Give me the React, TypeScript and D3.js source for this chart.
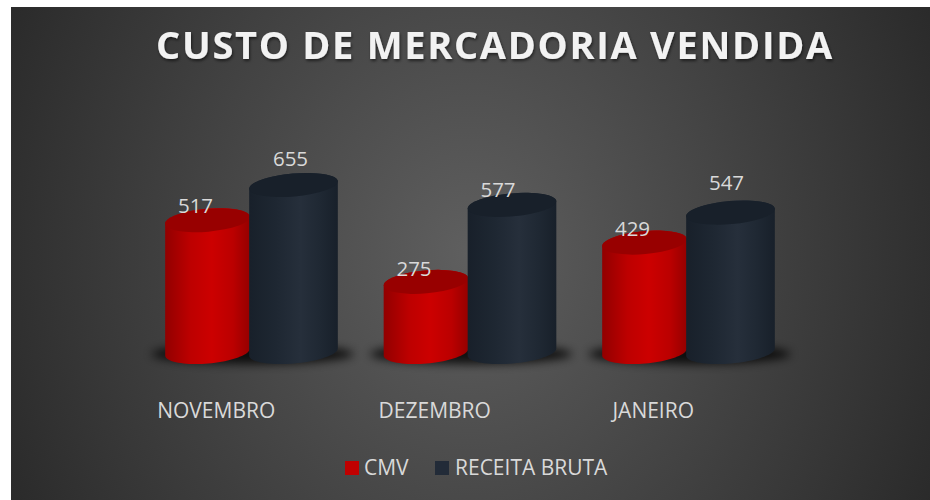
import React, { useEffect, useRef } from 'react';
import * as d3 from 'd3';

const categories = ['NOVEMBRO', 'DEZEMBRO', 'JANEIRO'];
const seriesNames = ['CMV', 'RECEITA BRUTA'];
const cmvValues = [517, 275, 429];
const receitaValues = [655, 577, 547];
const titleText = 'CUSTO DE MERCADORIA VENDIDA';

const FONT = '"Open Sans", "Noto Sans", sans-serif';
const width = 930;
const height = 500;
const tilt = (-5 * Math.PI) / 180; // the cylinders lean a little, as in the 3D view
const ry = 11.5;

// label nudges per series and category, the source places them by hand
const labelDx = [[-12, -12, -12], [-3, -14, -4]];
const labelDy = [[-7, -6, -7], [-19, -8, -23]];

export default function App() {
  const ref = useRef<SVGSVGElement | null>(null);

  useEffect(() => {
    const svg = d3.select(ref.current);
    svg.selectAll('*').remove();

    const defs = svg.append('defs');

    const bg = defs.append('radialGradient').attr('id', 'bg')
      .attr('gradientUnits', 'userSpaceOnUse')
      .attr('cx', 470).attr('cy', 253).attr('r', 550)
      .attr('gradientTransform', 'translate(470 253) scale(1 1.15) translate(-470 -253)');
    bg.append('stop').attr('offset', '0%').attr('stop-color', '#5f5f5f');
    bg.append('stop').attr('offset', '100%').attr('stop-color', '#262626');

    const sideStops: Record<string, [number, string][]> = {
      side0: [[0, '#920000'], [0.3, '#bd0000'], [0.55, '#cc0000'], [0.8, '#bb0000'], [1, '#950000']],
      side1: [[0, '#18202a'], [0.3, '#1e2732'], [0.58, '#262f3b'], [0.8, '#1f2833'], [1, '#18202a']],
    };
    Object.keys(sideStops).forEach((id) => {
      const g = defs.append('linearGradient').attr('id', id);
      sideStops[id].forEach((s) => {
        g.append('stop').attr('offset', s[0]).attr('stop-color', s[1]);
      });
    });

    defs.append('filter').attr('id', 'blur')
      .attr('x', '-30%').attr('y', '-100%').attr('width', '160%').attr('height', '300%')
      .append('feGaussianBlur').attr('stdDeviation', 5);

    const titleShadow = defs.append('filter').attr('id', 'titleShadow');
    titleShadow.append('feDropShadow')
      .attr('dx', 1).attr('dy', 2).attr('stdDeviation', 1.5)
      .attr('flood-color', '#000').attr('flood-opacity', 0.55);

    svg.append('rect').attr('x', 11).attr('y', 7)
      .attr('width', width - 11).attr('height', height - 7)
      .attr('fill', 'url(#bg)');

    // scales
    const x0 = d3.scaleBand().domain(categories).range([141.5, 797]);
    const x1 = d3.scaleBand().domain(seriesNames).range([23, 195]);
    const y = d3.scaleLinear().domain([0, 655]).range([352, 185]);
    const rx = (i: number) => (i === 0 ? 42.5 : 44.5);

    const rows = categories.map((c, i) => ({ c, values: [cmvValues[i], receitaValues[i]] }));
    const topColors = ['#980000', '#18202a'];

    const groups = svg.selectAll('g.cat').data(rows).enter().append('g')
      .attr('class', 'cat')
      .attr('transform', (d) => `translate(${x0(d.c)},0)`);

    // soft shadow on the floor
    groups.append('ellipse')
      .attr('cx', 111).attr('cy', 354).attr('rx', 101).attr('ry', 10)
      .attr('fill', '#000').attr('opacity', 0.8)
      .attr('filter', 'url(#blur)');

    // half of the tilted ellipse, left to right through the front or the back
    const halfEllipse = (cx: number, cy: number, r: number, front: boolean) =>
      d3.range(0, 41).map((k) => {
        const t = Math.PI - (k / 40) * Math.PI;
        const ex = r * Math.cos(t);
        const ey = (front ? 1 : -1) * ry * Math.sin(t);
        return [
          cx + ex * Math.cos(tilt) - ey * Math.sin(tilt),
          cy + ex * Math.sin(tilt) + ey * Math.cos(tilt),
        ] as [number, number];
      });
    const line = d3.line();

    seriesNames.forEach((name, i) => {
      const cx = x1(name)! + x1.bandwidth() / 2;
      const r = rx(i);

      groups.each(function (d) {
        const g = d3.select(this);
        const topY = y(d.values[i]);
        const baseY = y(0);
        const outline = [
          ...halfEllipse(cx, baseY, r, true),
          ...halfEllipse(cx, topY, r, false).reverse(),
        ];
        g.append('path').attr('d', line(outline) + 'Z').attr('fill', `url(#side${i})`);
        g.append('ellipse')
          .attr('cx', cx).attr('cy', topY).attr('rx', r).attr('ry', ry)
          .attr('transform', `rotate(${(tilt * 180) / Math.PI} ${cx} ${topY})`)
          .attr('fill', topColors[i]);
      });
    });

    // value labels sit over the cylinder tops
    seriesNames.forEach((name, i) => {
      const cx = x1(name)! + x1.bandwidth() / 2;
      groups.append('text')
        .attr('x', (_, k) => cx + labelDx[i][k])
        .attr('y', (d, k) => y(d.values[i]) + labelDy[i][k])
        .attr('text-anchor', 'middle')
        .attr('font-family', FONT)
        .attr('font-size', 20.5)
        .attr('fill', '#d9d9d9')
        .text((d) => d.values[i]);
    });

    // category axis, labels are set off to the left of the cylinders
    const axis = d3.axisBottom(x0).tickSize(0).tickPadding(0);
    const axisG = svg.append('g')
      .attr('transform', 'translate(-34.5,403)')
      .call(axis);
    axisG.select('.domain').remove();
    axisG.selectAll('text')
      .attr('font-family', FONT)
      .attr('font-size', 21)
      .attr('fill', '#d9d9d9');

    svg.append('text')
      .attr('x', 495).attr('y', 59)
      .attr('text-anchor', 'middle')
      .attr('font-family', FONT)
      .attr('font-weight', 700)
      .attr('font-size', 38)
      .attr('letter-spacing', 1.7)
      .attr('fill', '#f2f2f2')
      .attr('filter', 'url(#titleShadow)')
      .text(titleText);

    // legend
    const legendX = [345, 435];
    const legendColors = ['#c00000', '#222b38'];
    const legend = svg.selectAll('g.legend').data(seriesNames).enter().append('g')
      .attr('class', 'legend')
      .attr('transform', (_, i) => `translate(${legendX[i]},461)`);
    legend.append('rect').attr('width', 14).attr('height', 14)
      .attr('fill', (_, i) => legendColors[i]);
    legend.append('text')
      .attr('x', (_, i) => (i === 0 ? 19 : 20)).attr('y', 14)
      .attr('font-family', FONT)
      .attr('font-size', 21)
      .attr('fill', '#d9d9d9')
      .text((d) => d);
  }, []);

  return (
    <svg
      ref={ref}
      width={width}
      height={height}
      style={{ position: 'absolute', left: 0, top: 0, display: 'block' }}
    />
  );
}
